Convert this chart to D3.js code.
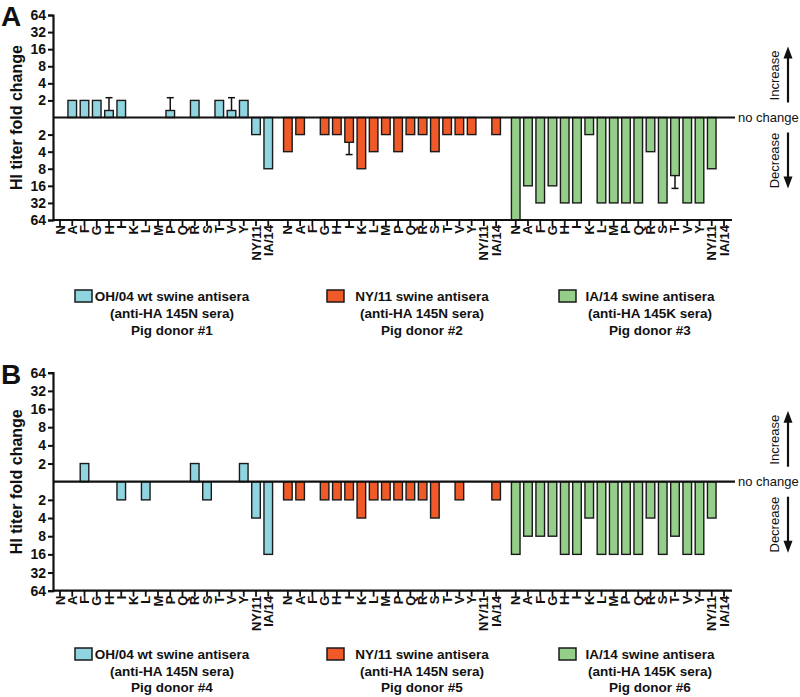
<!DOCTYPE html>
<html><head><meta charset="utf-8">
<script src="https://cdn.jsdelivr.net/npm/d3@7/dist/d3.min.js"></script>
<style>
body{margin:0;background:#fff}
svg{display:block}
text{font-family:"Liberation Sans",Arial,Helvetica,sans-serif;fill:#111}
</style>
</head><body>
<svg id="chart" width="800" height="697"></svg>
<script>
// ---------------- DATA ----------------
const categories = ["N","A","F","G","H","I","K","L","M","P","Q","R","S","T","V","Y","NY/11","IA/14"];
// y ticks in log2 steps and their labels (fold change)
const yTickSteps  = [6,5,4,3,2,1,0,-1,-2,-3,-4,-5,-6];
const yTickLabels = ["64","32","16","8","4","2","","2","4","8","16","32","64"];
const seriesNames = ["OH/04 wt swine antisera","NY/11 swine antisera","IA/14 swine antisera"];
const seriesSera  = ["(anti-HA 145N sera)","(anti-HA 145N sera)","(anti-HA 145K sera)"];
const donorsA = ["Pig donor #1","Pig donor #2","Pig donor #3"];
const donorsB = ["Pig donor #4","Pig donor #5","Pig donor #6"];
// values: signed log2 HI titer fold change (0 = no change)
const panelA_OH04 = [0,1,1,1,0.41,1,0,0,0,0.41,0,1,0,1,0.41,1,-1,-3];
const panelA_NY11 = [-2,-1,0,-1,-1,-1.45,-3,-2,-1,-2,-1,-1,-2,-1,-1,-1,0,-1];
const panelA_IA14 = [-6,-4,-5,-4,-5,-5,-1,-5,-5,-5,-5,-2,-5,-3.4,-5,-5,-3,0];
const panelA_OH04_err = [0,0,0,0,0.75,0,0,0,0,0.75,0,0,0,0,0.75,0,0,0];
const panelA_NY11_err = [0,0,0,0,0,0.72,0,0,0,0,0,0,0,0,0,0,0,0];
const panelA_IA14_err = [0,0,0,0,0,0,0,0,0,0,0,0,0,0.75,0,0,0,0];
const panelB_OH04 = [0,0,1,0,0,-1,0,-1,0,0,0,1,-1,0,0,1,-2,-4];
const panelB_NY11 = [-1,-1,0,-1,-1,-1,-2,-1,-1,-1,-1,-1,-2,0,-1,0,0,-1];
const panelB_IA14 = [-4,-3,-3,-3,-4,-4,-2,-4,-4,-4,-4,-2,-4,-3,-4,-4,-2,0];
const zeros = categories.map(() => 0);
const colors = ["#8fd4df","#f05a28","#94ce89"];

// ---------------- LAYOUT ----------------
const svg = d3.select("#chart");
const axisX = 53, axisEnd = 732, groupStride = 18.6;
const x = d3.scaleLinear().domain([0, 2*groupStride + 17]).range([60, 724]);
const barW = 8.6;

const panels = [
  {letter:"A", top:15, bottom:220, values:[panelA_OH04,panelA_NY11,panelA_IA14],
   errs:[panelA_OH04_err,panelA_NY11_err,panelA_IA14_err], donors:donorsA, legendY:301, lh:17},
  {letter:"B", top:372.7, bottom:590.7, values:[panelB_OH04,panelB_NY11,panelB_IA14],
   errs:[zeros,zeros,zeros], donors:donorsB, legendY:659, lh:16.5}
];
const legendCenters = [172, 422, 650];
const legendSquareX = [75, 327, 559];

panels.forEach(p => {
  const g = svg.append("g");
  const y = d3.scaleLinear().domain([-6, 6]).range([p.bottom, p.top]);
  const y0 = y(0);

  // panel letter
  g.append("text").attr("x", 1).attr("y", p.top + 11).attr("font-size", 28)
    .attr("font-weight", "bold").text(p.letter);

  // y title
  g.append("text").attr("transform", `translate(22,${(p.top+p.bottom)/2}) rotate(-90)`)
    .attr("text-anchor", "middle").attr("font-size", 16).attr("font-weight", "bold")
    .text("HI titer fold change");

  // bars
  p.values.forEach((vals, s) => {
    const items = vals.map((v, i) => ({v, i, e: p.errs[s][i]})).filter(d => d.v !== 0);
    const xp = d => x(s*groupStride + d.i);
    // error bars
    items.filter(d => d.e > 0).forEach(d => {
      const yEnd = y(d.v + Math.sign(d.v)*d.e);
      g.append("line").attr("x1", xp(d)).attr("x2", xp(d)).attr("y1", y(d.v)).attr("y2", yEnd)
        .attr("stroke", "#111").attr("stroke-width", 1.5);
      g.append("line").attr("x1", xp(d)-3.5).attr("x2", xp(d)+3.5).attr("y1", yEnd).attr("y2", yEnd)
        .attr("stroke", "#111").attr("stroke-width", 1.5);
    });
    g.selectAll(null).data(items).enter().append("rect")
      .attr("x", d => xp(d) - barW/2)
      .attr("width", barW)
      .attr("y", d => Math.min(y(d.v), y0))
      .attr("height", d => Math.abs(y(d.v) - y0))
      .attr("fill", colors[s]).attr("stroke", "#1a1a1a").attr("stroke-width", 1.4);
  });

  // y axis
  const yAxis = d3.axisLeft(y).tickValues(yTickSteps).tickSize(5).tickPadding(2)
    .tickFormat((d, i) => yTickLabels[i]);
  const ya = g.append("g").attr("transform", `translate(${axisX},0)`).call(yAxis);
  ya.select(".domain").attr("stroke", "#111").attr("stroke-width", 2.2);
  ya.selectAll(".tick line").attr("stroke", "#111").attr("stroke-width", 2);
  ya.selectAll(".tick").filter(d => d === 0).select("line").remove();
  ya.selectAll(".tick text").attr("font-size", 14).attr("font-weight", "bold")
    .attr("font-family", '"Liberation Sans",Arial,sans-serif').attr("fill", "#111");

  // x axis line
  g.append("line").attr("x1", axisX).attr("x2", axisEnd).attr("y1", p.bottom).attr("y2", p.bottom)
    .attr("stroke", "#111").attr("stroke-width", 2.2);
  // x ticks and labels
  for (let s = 0; s < 3; s++) {
    categories.forEach((c, i) => {
      const xx = x(s*groupStride + i);
      g.append("line").attr("x1", xx).attr("x2", xx).attr("y1", p.bottom).attr("y2", p.bottom + 6)
        .attr("stroke", "#111").attr("stroke-width", 1.8);
      g.append("text").attr("transform", `translate(${xx + 4.5},${p.bottom + 5}) rotate(-90)`)
        .attr("text-anchor", "end").attr("font-size", 13).attr("font-weight", "bold").text(c);
    });
  }

  // baseline (no change)
  g.append("line").attr("x1", axisX).attr("x2", 735).attr("y1", y0).attr("y2", y0)
    .attr("stroke", "#111").attr("stroke-width", 2.2);
  g.append("text").attr("x", 738).attr("y", y0 + 4.5).attr("font-size", 13).text("no change");

  // increase / decrease annotations
  g.append("text").attr("transform", `translate(779,${y0 - 42}) rotate(-90)`)
    .attr("text-anchor", "middle").attr("font-size", 13).text("Increase");
  g.append("text").attr("transform", `translate(779,${y0 + 43}) rotate(-90)`)
    .attr("text-anchor", "middle").attr("font-size", 13).text("Decrease");
  const ax = 788;
  g.append("line").attr("x1", ax).attr("x2", ax).attr("y1", y0 - 15).attr("y2", y0 - 60)
    .attr("stroke", "#111").attr("stroke-width", 2.2);
  g.append("path").attr("d", `M${ax-4.5},${y0-59} L${ax},${y0-71} L${ax+4.5},${y0-59} Z`).attr("fill", "#111");
  g.append("line").attr("x1", ax).attr("x2", ax).attr("y1", y0 + 15).attr("y2", y0 + 60)
    .attr("stroke", "#111").attr("stroke-width", 2.2);
  g.append("path").attr("d", `M${ax-4.5},${y0+59} L${ax},${y0+71} L${ax+4.5},${y0+59} Z`).attr("fill", "#111");

  // legend
  for (let s = 0; s < 3; s++) {
    g.append("rect").attr("x", legendSquareX[s]).attr("y", p.legendY - 11).attr("width", 17).attr("height", 12)
      .attr("fill", colors[s]).attr("stroke", "#1a1a1a").attr("stroke-width", 1.5);
    const lines = [seriesNames[s], seriesSera[s], p.donors[s]];
    lines.forEach((t, k) => {
      g.append("text").attr("x", legendCenters[s]).attr("y", p.legendY + k*p.lh)
        .attr("text-anchor", "middle").attr("font-size", 13.5).attr("font-weight", "bold").text(t);
    });
  }
});
</script>
</body></html>
